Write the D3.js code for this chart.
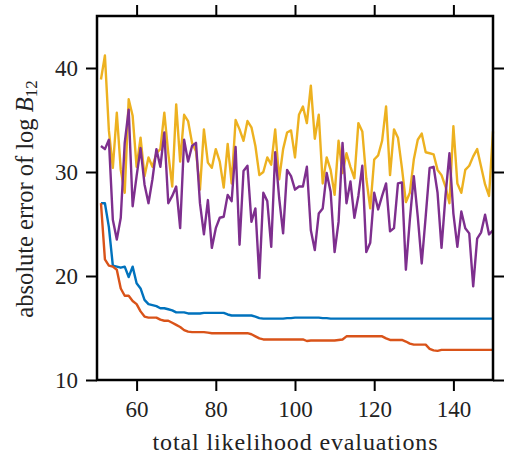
<!DOCTYPE html>
<html>
<head>
<meta charset="utf-8">
<script src="https://cdn.jsdelivr.net/npm/d3@7"></script>
<style>
  html, body { margin: 0; padding: 0; background: #fff; }
  svg { display: block; font-family: "Liberation Serif", "Times New Roman", "DejaVu Serif", serif; }
  .axis .domain { display: none; }
  .axis line { stroke: #000; stroke-width: 2; }
  .axis text { font-size: 23px; fill: #222; font-family: "Liberation Serif", "Times New Roman", "DejaVu Serif", serif; }
</style>
</head>
<body>
<div class="chart"></div>
<script>
// evaluations run 51..150, one point each
const firstEval = 51;
const xTicks = [60, 80, 100, 120, 140];
const yTicks = [10, 20, 30, 40];

const blueErr = [
  27.0, 27.0, 24.7, 21.0, 20.9, 20.8, 20.9, 19.9, 20.9, 19.3,
  18.8, 17.7, 17.3, 17.2, 17.1, 16.9, 16.9, 16.8, 16.7, 16.5,
  16.5, 16.5, 16.4, 16.4, 16.4, 16.4, 16.45, 16.45, 16.45, 16.45,
  16.45, 16.45, 16.3, 16.2, 16.2, 16.2, 16.2, 16.2, 16.2, 16.1,
  15.95, 15.9, 15.9, 15.9, 15.9, 15.9, 15.9, 15.95, 15.95, 16.0,
  16.0, 16.0, 16.0, 16.0, 16.0, 16.0, 15.95, 15.95, 15.9, 15.9,
  15.9, 15.9, 15.9, 15.9, 15.9, 15.9, 15.9, 15.9, 15.9, 15.9,
  15.9, 15.9, 15.9, 15.9, 15.9, 15.9, 15.9, 15.9, 15.9, 15.9,
  15.9, 15.9, 15.9, 15.9, 15.9, 15.9, 15.9, 15.9, 15.9, 15.9,
  15.9, 15.9, 15.9, 15.9, 15.9, 15.9, 15.9, 15.9, 15.9, 15.9
];

const redErr = [
  27.0, 21.6, 21.0, 20.9, 20.6, 18.8, 18.1, 18.1, 17.6, 17.3,
  16.6, 16.1, 16.0, 16.0, 16.0, 15.8, 15.7, 15.7, 15.5, 15.3,
  15.1, 14.8, 14.65, 14.6, 14.6, 14.6, 14.6, 14.55, 14.5, 14.5,
  14.5, 14.5, 14.5, 14.5, 14.5, 14.5, 14.5, 14.5, 14.4, 14.2,
  14.0, 13.9, 13.9, 13.9, 13.9, 13.9, 13.9, 13.9, 13.9, 13.9,
  13.9, 13.9, 13.75, 13.8, 13.8, 13.8, 13.8, 13.8, 13.8, 13.8,
  13.85, 13.9, 14.2, 14.2, 14.2, 14.2, 14.2, 14.2, 14.2, 14.2,
  14.2, 14.2, 14.0, 13.85, 13.85, 13.85, 13.85, 13.7, 13.5, 13.4,
  13.4, 13.4, 13.4, 13.0, 12.85, 12.8, 12.9, 12.9, 12.9, 12.9,
  12.9, 12.9, 12.9, 12.9, 12.9, 12.9, 12.9, 12.9, 12.9, 12.9
];

const yellowErr = [
  38.9, 41.2, 34.0, 30.4, 35.7, 30.2, 28.0, 37.0, 35.4, 30.5,
  33.3, 29.6, 31.4, 30.5, 31.8, 32.2, 35.7, 31.8, 28.6, 36.5,
  31.0, 35.5, 34.9, 32.8, 32.0, 28.3, 34.1, 30.9, 30.4, 32.2,
  31.0, 28.5, 32.7, 28.9, 35.0, 34.1, 33.0, 34.9, 34.3, 32.5,
  29.7, 30.0, 31.4, 30.7, 34.1, 29.3, 32.2, 33.8, 34.0, 31.4,
  35.5, 36.3, 34.7, 38.3, 33.2, 35.5, 28.9, 31.4, 30.2, 27.8,
  33.0, 29.9, 31.8, 30.5, 29.4, 34.7, 33.9, 29.4, 26.5, 31.2,
  31.6, 33.0, 36.3, 29.7, 34.1, 33.3, 30.4, 27.1, 28.0, 31.2,
  33.1, 33.7, 31.9, 31.8, 31.7, 30.2, 29.7, 28.6, 27.0, 34.4,
  28.9, 28.0, 30.2, 30.6, 31.5, 32.2, 30.5, 28.8, 27.7, 33.9
];

const purpleErr = [
  32.5, 32.2, 33.1, 25.4, 23.5, 25.6, 32.8, 36.0, 26.7, 29.6,
  32.3, 28.8, 27.0, 29.3, 32.2, 30.5, 33.8, 27.0, 27.7, 28.6,
  24.6, 33.1, 31.0, 32.5, 32.8, 27.0, 24.0, 27.3, 22.7, 24.6,
  25.6, 25.7, 27.8, 27.2, 32.4, 23.0, 30.1, 30.6, 25.2, 26.5,
  19.8, 28.0, 27.2, 22.8, 31.9, 27.5, 24.1, 30.2, 29.6, 28.3,
  28.6, 28.6, 30.5, 24.4, 22.5, 26.0, 26.5, 29.9, 28.1, 22.3,
  25.2, 32.8, 27.0, 29.1, 25.6, 27.7, 30.6, 22.3, 23.2, 28.0,
  26.4, 27.7, 28.9, 24.3, 24.6, 28.9, 29.0, 20.6, 25.4, 29.6,
  25.7, 21.2, 25.7, 30.4, 30.5, 28.0, 22.7, 27.7, 31.8, 26.0,
  22.8, 26.2, 24.6, 24.1, 19.0, 23.6, 24.2, 25.9, 24.0, 24.4
];

const series = [
  { name: "blue", values: blueErr, color: "#0072BD" },
  { name: "red", values: redErr, color: "#D95319" },
  { name: "yellow", values: yellowErr, color: "#EDB120" },
  { name: "purple", values: purpleErr, color: "#7E2F8E" },
];

const width = 505;
const height = 455;
const margin = { top: 16, right: 12, bottom: 75, left: 97 };

const x = d3.scaleLinear().domain([50, 150]).range([margin.left, width - margin.right]);
const y = d3.scaleLinear().domain([10, 45]).range([height - margin.bottom, margin.top]);

const svg = d3
  .select(".chart")
  .append("svg")
  .attr("width", width)
  .attr("height", height);

const line = d3
  .line()
  .x((d, i) => x(firstEval + i))
  .y((d) => y(d));

svg
  .append("g")
  .selectAll("path")
  .data(series)
  .join("path")
  .attr("fill", "none")
  .attr("stroke", (d) => d.color)
  .attr("stroke-width", 2.4)
  .attr("stroke-linejoin", "round")
  .attr("d", (d) => line(d.values));

// axes, ticks pointing outwards on all four sides
svg
  .append("g")
  .attr("class", "axis")
  .attr("transform", `translate(0,${y.range()[0]})`)
  .call(d3.axisBottom(x).tickValues(xTicks).tickSize(11).tickPadding(10).tickSizeOuter(0));

svg
  .append("g")
  .attr("class", "axis")
  .attr("transform", `translate(0,${y.range()[1]})`)
  .call(d3.axisTop(x).tickValues(xTicks).tickSize(11).tickFormat("").tickSizeOuter(0));

svg
  .append("g")
  .attr("class", "axis")
  .attr("transform", `translate(${x.range()[0]},0)`)
  .call(d3.axisLeft(y).tickValues(yTicks).tickSize(11).tickPadding(8).tickSizeOuter(0));

svg
  .append("g")
  .attr("class", "axis")
  .attr("transform", `translate(${x.range()[1]},0)`)
  .call(d3.axisRight(y).tickValues(yTicks).tickSize(11).tickFormat("").tickSizeOuter(0));

svg
  .append("rect")
  .attr("x", x.range()[0])
  .attr("y", y.range()[1])
  .attr("width", x.range()[1] - x.range()[0])
  .attr("height", y.range()[0] - y.range()[1])
  .attr("fill", "none")
  .attr("stroke", "#000")
  .attr("stroke-width", 2.5);

const cx = (x.range()[0] + x.range()[1]) / 2;
const cy = (y.range()[0] + y.range()[1]) / 2;

svg
  .append("text")
  .attr("x", cx)
  .attr("y", 450)
  .attr("text-anchor", "middle")
  .attr("font-size", 24)
  .attr("textLength", 285)
  .attr("lengthAdjust", "spacing")
  .attr("fill", "#222")
  .text("total likelihood evaluations");

const ylab = svg
  .append("text")
  .attr("transform", `translate(33,${cy + 1}) rotate(-90)`)
  .attr("text-anchor", "middle")
  .attr("font-size", 24.5)
  .attr("fill", "#222");
ylab.append("tspan").text("absolute error of log ");
ylab.append("tspan").attr("font-style", "italic").text("B");
ylab.append("tspan").attr("font-size", 17).attr("dy", 4).text("12");
</script>
</body>
</html>
